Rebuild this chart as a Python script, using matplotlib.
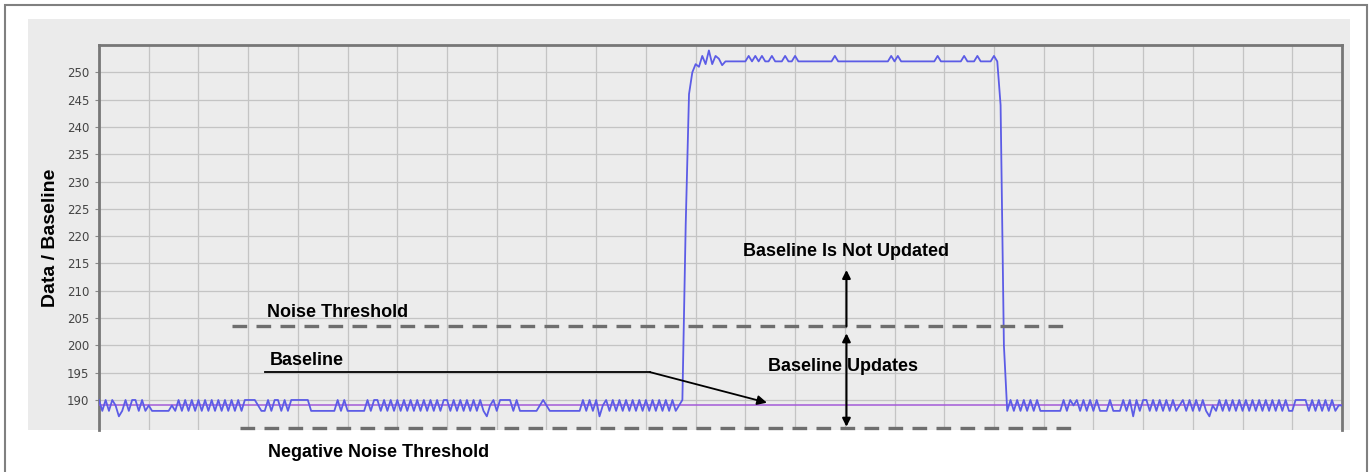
import numpy as np
import matplotlib.pyplot as plt
from matplotlib.patches import Rectangle

# raw sensor counts, one value per sample
noise_before = [190, 188, 190, 188, 190,
                189, 187,
                188, 190, 188, 190, 190, 188, 190, 188,
                189, 188, 188, 188, 188, 188, 188, 189,
                188, 190, 188, 190, 188, 190, 188, 190, 188, 190, 188,
                190, 188, 190, 188, 190, 188, 190, 188, 190, 188, 190,
                190, 190, 190, 189,
                188, 188, 190, 188, 190, 190, 188, 190, 188,
                190, 190, 190, 190, 190, 190,
                188, 188,
                188, 188, 188, 188, 188, 188,
                190, 188, 190, 188,
                188, 188, 188, 188, 188,
                190, 188, 190, 190, 188, 190, 188, 190, 188, 190, 188,
                190, 188, 190, 188, 190, 188, 190, 188, 190, 188, 190, 188,
                190, 190, 188, 190, 188, 190, 188, 190, 188, 190, 188, 190, 188,
                187,
                189, 190,
                188, 190, 190, 190, 190,
                188, 190,
                188, 188, 188, 188, 188, 188,
                189, 190, 189, 188,
                188, 188, 188, 188, 188, 188,
                188, 188, 188, 190, 188, 190, 188, 190,
                187, 189,
                190, 188, 190, 188, 190, 188, 190, 188, 190, 188, 190, 188,
                190, 188, 190, 188, 190, 188, 190, 188, 190, 188, 189, 190]

touch = [222, 246, 250, 251.5, 251, 253, 251.5, 254, 251.5, 253, 252.5, 251.3, 252,
         252, 252, 252, 252, 252, 252,
         253, 252, 253, 252, 253, 252, 252, 253,
         252, 252, 252, 253, 252, 252, 253,
         252, 252, 252, 252, 252, 252, 252, 252, 252, 252, 252,
         253,
         252, 252, 252, 252, 252, 252, 252, 252, 252, 252, 252, 252, 252, 252, 252, 252,
         253, 252, 253,
         252, 252, 252, 252, 252, 252, 252, 252, 252, 252, 252,
         253,
         252, 252, 252, 252, 252, 252, 252,
         253, 252, 252, 252, 253, 252, 252, 252, 252, 253, 252,
         244, 200]

noise_after = [188, 190, 188, 190, 188, 190, 188, 190, 188, 190, 188,
               188, 188, 188, 188, 188, 188,
               190, 188, 190, 189, 190, 188, 190, 188, 190, 188,
               190, 188, 188, 188, 190, 188, 188, 188,
               190, 188, 190, 187, 190, 188, 190, 190, 188, 190,
               188, 190, 188, 190, 188, 190, 188, 189, 190, 188, 190, 188, 190, 188, 190, 188,
               187, 189,
               188, 190, 188, 190, 188, 190, 188, 190, 188, 190, 188, 190, 188, 190, 188, 190,
               188, 190, 188, 190, 188,
               190, 188, 188,
               190, 190, 190, 190,
               188, 190, 188, 190, 188, 190, 188, 190, 188,
               189, 189]

baseline_level = 189
noise_threshold = 203.5
neg_noise_threshold = 184.9
y_ticks = [190, 195, 200, 205, 210, 215, 220, 225, 230, 235, 240, 245, 250]

raw = noise_before + touch + noise_after
samples = np.arange(len(raw))

fig = plt.figure(figsize=(13.7, 4.72), dpi=100)
W, H = 1370, 472

# grey panel behind the plot and the outer frame
fig.patches.append(Rectangle((28 / W, 1 - 430 / H), (1350 - 28) / W, (430 - 19) / H,
                             transform=fig.transFigure, facecolor='#ebebeb',
                             edgecolor='none', zorder=-2))
fig.patches.append(Rectangle((5 / W, -0.05), (1367 - 5) / W, 1 - 5 / H + 0.05,
                             transform=fig.transFigure, facecolor='none',
                             edgecolor='#808080', lw=1.5, zorder=-1))

ax = fig.add_axes([99 / W, 1 - 430 / H, (1342 - 99) / W, (430 - 45) / H])
ax.set_zorder(2)
ax.set_facecolor('#ececec')

ax.plot(samples, np.full(len(raw), baseline_level), color='#a45ad8', lw=1.1, zorder=3)
ax.plot(samples, raw, color='#5c5ce6', lw=1.3, zorder=4)

ax.set_xlim(0, 375)
ax.set_ylim(184.5, 255)
ax.set_xticks(np.arange(0, 376, 15))
ax.set_xticklabels([])
ax.tick_params(axis='x', length=0)
ax.set_yticks(y_ticks)
ax.tick_params(axis='y', length=3, color='#888888', labelsize=8.5,
               labelcolor='#444444', pad=4)
ax.grid(True, color='#c4c4c4', lw=0.9)
ax.set_axisbelow(True)
for side in ['left', 'top', 'right']:
    ax.spines[side].set_color('#777777')
    ax.spines[side].set_linewidth(2)
ax.spines['bottom'].set_visible(False)

ax.set_ylabel('Data / Baseline', fontsize=14, fontweight='bold',
              family='Liberation Sans')
ax.yaxis.set_label_coords(-0.032, 0.5)

bold = dict(fontsize=13, fontweight='bold', family='Liberation Sans',
            color='black', va='center', ha='left')

# threshold lines
dash = dict(color='#6e6e6e', lw=2.4, dashes=(4.4, 2.8), zorder=5, clip_on=False)
ax.plot([40, 293], [noise_threshold, noise_threshold], **dash)
ax.plot([42.5, 295], [neg_noise_threshold, neg_noise_threshold], **dash)

ax.text(50.7, 206.1, 'Noise Threshold', **bold)
ax.text(51, 180.4, 'Negative Noise Threshold', clip_on=False, **bold)
ax.text(51.6, 197.2, 'Baseline', **bold)
ax.text(194.3, 217.2, 'Baseline Is Not Updated', **bold)
ax.text(201.8, 196.2, 'Baseline Updates', **bold)

# baseline pointer
ax.plot([50, 166.2], [195.1, 195.1], color='black', lw=1.3, zorder=6)
ax.annotate('', xy=(201.5, 189.5), xytext=(166.2, 195.1),
            arrowprops=dict(arrowstyle='-|>', color='black', lw=1.3,
                            mutation_scale=14, shrinkA=0, shrinkB=0), zorder=6)

# update / no update arrows
ax.annotate('', xy=(225.5, 213.8), xytext=(225.5, noise_threshold),
            arrowprops=dict(arrowstyle='-|>', color='black', lw=1.5,
                            mutation_scale=12, shrinkA=0, shrinkB=0), zorder=6)
ax.annotate('', xy=(225.5, 202.2), xytext=(225.5, 185.1),
            arrowprops=dict(arrowstyle='<|-|>', color='black', lw=1.5,
                            mutation_scale=12, shrinkA=0, shrinkB=0), zorder=6)

fig.savefig('out.png', dpi=100)
